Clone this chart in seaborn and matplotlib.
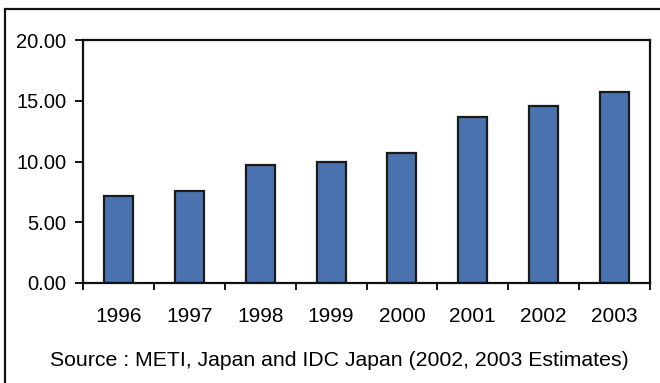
import matplotlib
matplotlib.use("Agg")
import matplotlib.pyplot as plt
import seaborn as sns
import pandas as pd
import numpy as np
from matplotlib.patches import Rectangle
from matplotlib.ticker import FixedLocator, FormatStrFormatter

years = ["1996", "1997", "1998", "1999", "2000", "2001", "2002", "2003"]
values = [7.2, 7.6, 9.7, 10.0, 10.7, 13.7, 14.6, 15.7]
y_ticks = [0, 5, 10, 15, 20]
source_note = "Source : METI, Japan and IDC Japan (2002, 2003 Estimates)"

sns.set_theme(style="white")
plt.rcParams["font.family"] = ["Liberation Sans", "DejaVu Sans"]

df = pd.DataFrame({"year": years, "value": values})

fig = plt.figure(figsize=(6.6, 3.83), dpi=100)
ax = fig.add_axes([83 / 660, 1 - 283 / 383, 567 / 660, 243 / 383])

sns.barplot(data=df, x="year", y="value", color="#4A73AF", saturation=1,
            edgecolor="#1a1a1a", linewidth=1.6, width=0.41, ax=ax)

ax.set_xlim(-0.5, len(years) - 0.5)
ax.set_ylim(0, 20)
ax.set_xlabel("")
ax.set_ylabel("")

ax.yaxis.set_major_locator(FixedLocator(y_ticks))
ax.yaxis.set_major_formatter(FormatStrFormatter("%.2f"))
ax.tick_params(axis="y", which="major", direction="out", length=6, width=1.3,
               color="black", labelsize=14.5, labelcolor="black", pad=6, left=True)

# year labels centred under bars, tick marks on the category boundaries
ax.set_xticks(range(len(years)))
ax.set_xticklabels(years)
ax.tick_params(axis="x", which="major", length=0, labelsize=15, labelcolor="black", pad=17)
ax.xaxis.set_minor_locator(FixedLocator(np.arange(-0.5, len(years), 1.0)))
ax.tick_params(axis="x", which="minor", direction="out", length=5, width=1.3,
               color="black", bottom=True)

for side in ["left", "right", "top", "bottom"]:
    ax.spines[side].set_visible(True)
    ax.spines[side].set_color("#111111")
    ax.spines[side].set_linewidth(1.6)

fig.text(339 / 660, 1 - 361 / 383, source_note, ha="center", va="center",
         fontsize=15.3, color="black")

# outer chart frame (runs past the right and bottom edges)
frame = Rectangle((5 / 660, -0.05), 1.1, 1 - 9 / 383 + 0.05, transform=fig.transFigure,
                  fill=False, edgecolor="#111111", linewidth=1.6, clip_on=False)
fig.patches.append(frame)

fig.savefig("out.png", dpi=100)
